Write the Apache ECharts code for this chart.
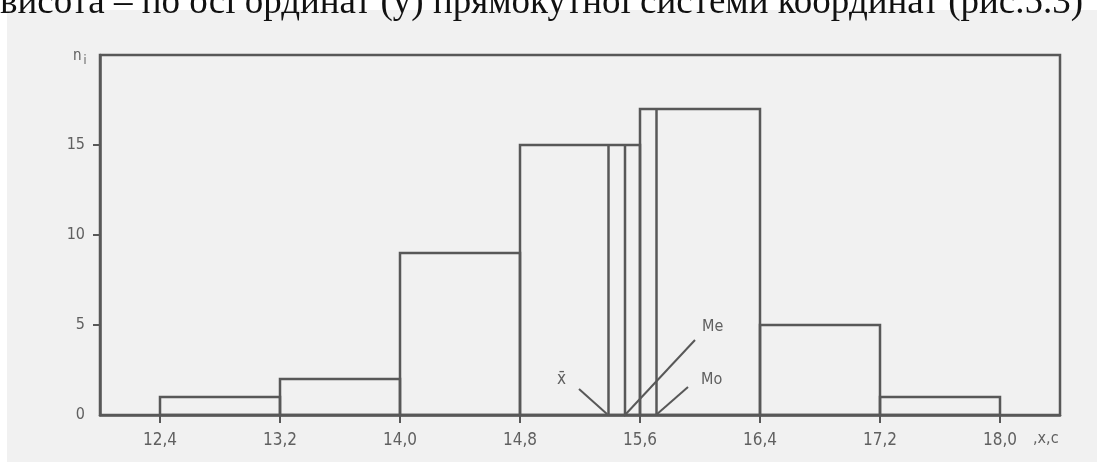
<!DOCTYPE html>
<html>
<head>
<meta charset="utf-8">
<script src="https://cdn.jsdelivr.net/npm/echarts@6/dist/echarts.min.js"></script>
<style>
html,body{margin:0;padding:0;background:#ffffff;}
#main{width:1097px;height:462px;}
</style>
</head>
<body>
<div id="main"></div>
<script>
// Histogram data (class intervals of x, c and frequencies n_i)
const binStart = [12.4, 13.2, 14.0, 14.8, 15.6, 16.4, 17.2];
const binEnd   = [13.2, 14.0, 14.8, 15.6, 16.4, 17.2, 18.0];
const counts   = [1, 2, 9, 15, 17, 5, 1];
// Mean, median and mode lines
const statNames  = ['x̄', 'Me', 'Mo'];
const statValues = [15.39, 15.50, 15.71];
const statHeights = [15, 15, 17];
// Tick labels
const xTicks = [12.4, 13.2, 14.0, 14.8, 15.6, 16.4, 17.2, 18.0];
const yTicks = [5, 10, 15];
const yLabels = [0, 5, 10, 15];
const headerText = 'висота – по осі ординат (у) прямокутної системи координат (рис.5.3)';

const LINE = '#585858';
const TXT = '#606060';
const FONT = '"Liberation Sans Narrow", "DejaVu Sans Condensed", sans-serif';

const histData = binStart.map((s, i) => [s, binEnd[i], counts[i]]);
const statData = statValues.map((v, i) => [v, statHeights[i]]);

const chart = echarts.init(document.getElementById('main'), null, {renderer: 'canvas'});
chart.setOption({
  animation: false,
  backgroundColor: '#ffffff',
  grid: {left: 100, right: 37, top: 55, bottom: 47, show: true, borderColor: LINE, borderWidth: 2.5},
  xAxis: {
    type: 'value', min: 12.0, max: 18.4,
    axisLine: {show: true, onZero: false, lineStyle: {color: LINE, width: 2.5}},
    axisTick: {show: true, length: 8, customValues: xTicks, lineStyle: {color: LINE, width: 2}},
    axisLabel: {customValues: xTicks, margin: 17, color: TXT, fontFamily: FONT, fontSize: 17,
      formatter: v => v.toFixed(1).replace('.', ',')},
    splitLine: {show: false}
  },
  yAxis: {
    type: 'value', min: 0, max: 20,
    axisLine: {show: true, lineStyle: {color: LINE, width: 2.5}},
    axisTick: {show: true, length: 7, customValues: yTicks, lineStyle: {color: LINE, width: 2}},
    axisLabel: {customValues: yLabels, margin: 15, color: TXT, fontFamily: FONT, fontSize: 16},
    splitLine: {show: false}
  },
  graphic: [
    {type: 'rect', z: -10, silent: true, shape: {x: 7, y: 10, width: 1090, height: 452}, style: {fill: '#f1f1f1'}},
    {type: 'text', z: 10, x: 0, y: 22, style: {text: headerText, font: '37px "Liberation Serif", serif', fill: '#111', textVerticalAlign: 'bottom'}},
    {type: 'text', z: 10, x: 73, y: 45, style: {text: '{n|n}{i|i}', rich: {n: {fontSize: 15, fontFamily: FONT, fill: TXT}, i: {fontSize: 12, fontFamily: FONT, fill: TXT, padding: [10, 0, 0, 2]}}}},
    {type: 'text', z: 10, x: 1033, y: 431, style: {text: ',x,c', font: '16px ' + FONT, fill: TXT}},
    // annotation labels and pointers
    {type: 'text', z: 10, x: 557, y: 371, style: {text: statNames[0], font: '17px ' + FONT, fill: TXT}},
    {type: 'text', z: 10, x: 702, y: 319, style: {text: statNames[1], font: '16px ' + FONT, fill: TXT}},
    {type: 'text', z: 10, x: 701, y: 372, style: {text: statNames[2], font: '16px ' + FONT, fill: TXT}},
    {type: 'line', z: 10, shape: {x1: 579, y1: 389, x2: 607, y2: 414}, style: {stroke: LINE, lineWidth: 2}},
    {type: 'line', z: 10, shape: {x1: 695, y1: 340, x2: 624, y2: 416}, style: {stroke: LINE, lineWidth: 2}},
    {type: 'line', z: 10, shape: {x1: 688, y1: 387, x2: 656, y2: 415}, style: {stroke: LINE, lineWidth: 2}}
  ],
  series: [
    {
      type: 'custom',
      data: histData,
      encode: {x: [0, 1], y: 2},
      renderItem: function (params, api) {
        const p0 = api.coord([api.value(0), api.value(2)]);
        const p1 = api.coord([api.value(1), 0]);
        return {type: 'rect', shape: {x: p0[0], y: p0[1], width: p1[0] - p0[0], height: p1[1] - p0[1]},
          style: {fill: 'none', stroke: LINE, lineWidth: 2.5}};
      }
    },
    {
      type: 'custom',
      data: statData,
      encode: {x: 0, y: 1},
      renderItem: function (params, api) {
        const a = api.coord([api.value(0), 0]);
        const b = api.coord([api.value(0), api.value(1)]);
        return {type: 'line', shape: {x1: a[0], y1: a[1], x2: b[0], y2: b[1]},
          style: {stroke: LINE, lineWidth: 2.5}};
      }
    }
  ]
});
</script>
</body>
</html>
